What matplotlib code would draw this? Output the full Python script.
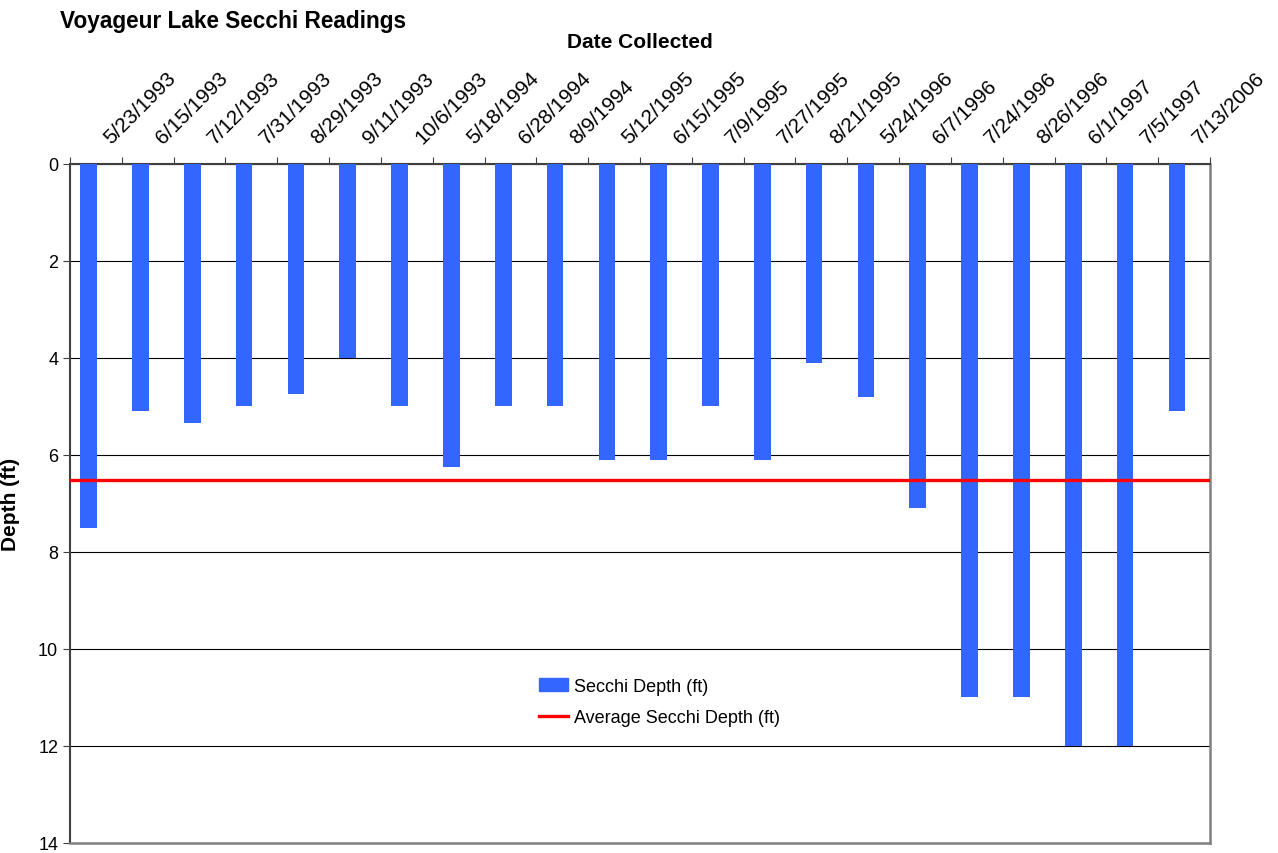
import numpy as np
import matplotlib.pyplot as plt
from matplotlib.patches import Patch
from matplotlib.lines import Line2D

plt.rcParams['font.family'] = ['Liberation Sans', 'DejaVu Sans']

dates = ['5/23/1993', '6/15/1993', '7/12/1993', '7/31/1993', '8/29/1993',
         '9/11/1993', '10/6/1993', '5/18/1994', '6/28/1994', '8/9/1994',
         '5/12/1995', '6/15/1995', '7/9/1995', '7/27/1995', '8/21/1995',
         '5/24/1996', '6/7/1996', '7/24/1996', '8/26/1996', '6/1/1997',
         '7/5/1997', '7/13/2006']
depth = [7.5, 5.1, 5.35, 5.0, 4.75, 4.0, 5.0, 6.25, 5.0, 5.0, 6.1, 6.1,
         5.0, 6.1, 4.1, 4.8, 7.1, 11.0, 11.0, 12.0, 12.0, 5.1]
avg = np.mean(depth)

blue = '#3366FF'
red = '#FF0000'
grey = '#808080'

fig = plt.figure(figsize=(12.78, 8.54), dpi=100)
ax = fig.add_axes([0.0548, 0.012, 0.892, 0.795])

n = len(dates)
x = np.arange(n)
ax.bar(x - 0.14, depth, width=0.32, color=blue, zorder=3)
ax.axhline(avg, color=red, lw=2.4, zorder=4)

ax.set_xlim(-0.5, n - 0.5)
ax.set_ylim(14, 0)
ax.set_yticks(range(0, 15, 2))
ax.tick_params(axis='y', labelsize=13, length=5, direction='out', color='#404040')
ax.yaxis.grid(True, color='black', lw=0.8, zorder=1)
ax.set_axisbelow(True)

# x ticks at category boundaries, labels at centres, on top
ax.xaxis.tick_top()
ax.set_xticks(np.arange(n + 1) - 0.5)
ax.set_xticklabels([])
ax.tick_params(axis='x', length=5, direction='out', color='#404040')
for i, d in enumerate(dates):
    ax.annotate(d, xy=(i, 1), xycoords=('data', 'axes fraction'),
                xytext=(11, 14), textcoords='offset points',
                rotation=45, rotation_mode='anchor', ha='left', va='baseline',
                fontsize=15)

for s in ['bottom', 'right']:
    ax.spines[s].set_color(grey)
    ax.spines[s].set_linewidth(1.8)
ax.spines['top'].set_color('#404040')
ax.spines['top'].set_linewidth(1.5)
ax.spines['left'].set_color('#404040')
ax.spines['left'].set_linewidth(1.5)

ax.set_ylabel('Depth (ft)', fontsize=15, fontweight='bold')
ax.yaxis.set_label_coords(-0.044, 0.5)

fig.text(0.047, 0.975, 'Voyageur Lake Secchi Readings', fontsize=16.3,
         fontweight='bold', ha='left', va='center')
fig.text(0.501, 0.95, 'Date Collected', fontsize=15, fontweight='bold',
         ha='center', va='center')

handles = [Patch(color=blue, label='Secchi Depth (ft)'),
           Line2D([0], [0], color=red, lw=2.4, label='Average Secchi Depth (ft)')]
ax.legend(handles=handles, loc='center', bbox_to_anchor=(0.517, 0.207),
          frameon=False, fontsize=13, handlelength=1.6, handletextpad=0.3,
          labelspacing=0.8)

fig.savefig('out.png', dpi=100)
